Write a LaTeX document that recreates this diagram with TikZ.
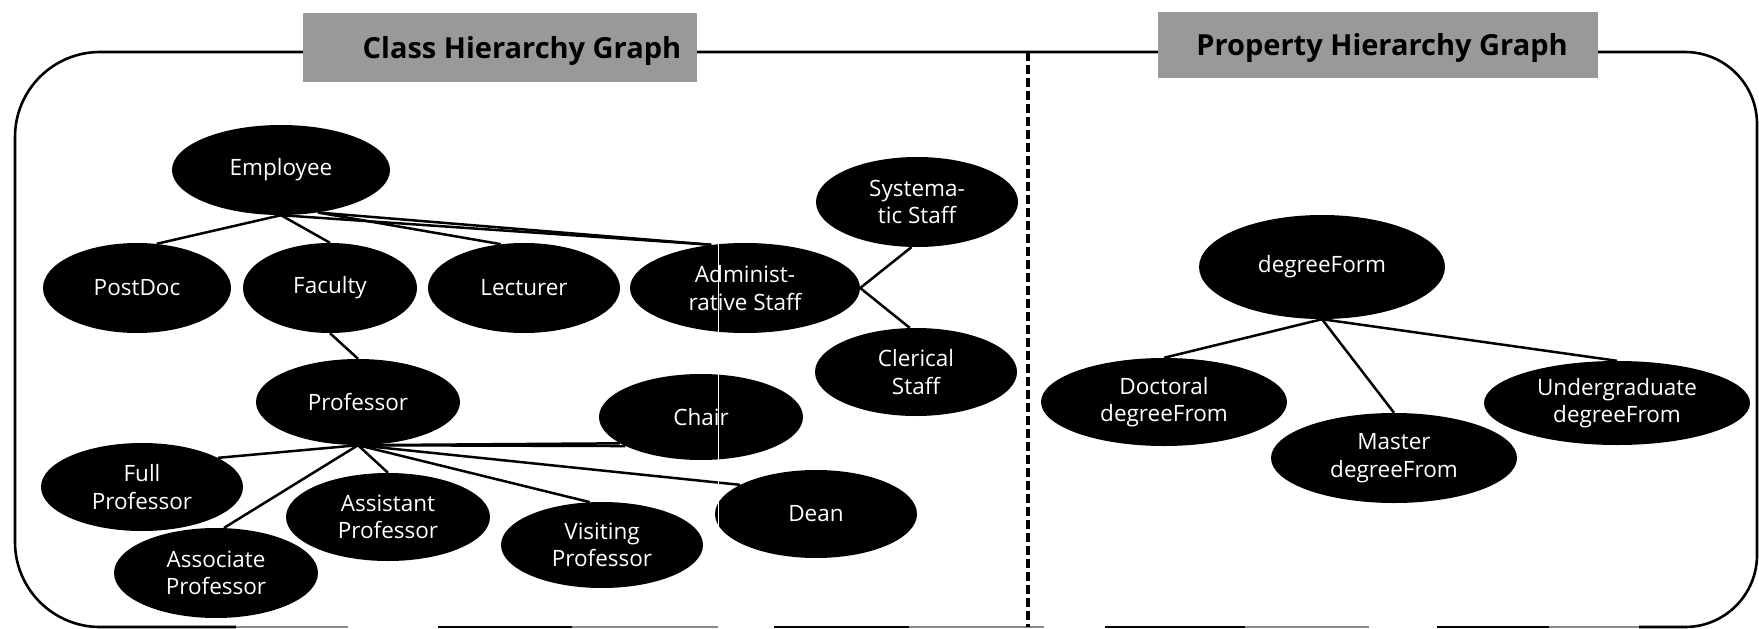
\documentclass[tikz,border=0pt]{standalone}
\usepackage{fontspec}
\setmainfont{Open Sans}
\usetikzlibrary{shapes.geometric}
\pgfdeclarelayer{bg}
\pgfsetlayers{bg,main}
\begin{document}
\begin{tikzpicture}[x=1pt,y=-1pt,
  cls/.style={ellipse, fill=black, text=white, inner sep=0pt, align=center,
              font=\fontsize{22.5}{27.5}\selectfont},
  sz/.style 2 args={minimum width=#1pt, minimum height=#2pt},
  edge/.style={line width=2.5pt},
  frameline/.style={line width=2.6pt},
  faintline/.style={line width=1.2pt, black!45},
  titlebox/.style={fill=black!40, draw=none, inner sep=0pt},
  titletext/.style={inner sep=0pt, font=\fontsize{29}{34}\selectfont\bfseries}
]
\useasboundingbox (0,0) rectangle (1759,629);

% ---------- class hierarchy nodes ----------
\node[cls, sz={218}{90}] (emp)      at (281,170) {Employee};
\node[cls, sz={188}{90}] (postdoc)  at (137,288) {PostDoc};
\node[cls, sz={174}{90}] (faculty)  at (330,288) {Faculty};
\node[cls, sz={192}{90}] (lecturer) at (524,288) {Lecturer};
\node[cls, sz={230}{90}] (admin)    at (745,288) {Administ-\\rative Staff};
\node[cls, sz={202}{90}] (syst)     at (917,202) {Systema-\\tic Staff};
\node[cls, sz={202}{88}] (cler)     at (916,372) {Clerical\\Staff};
\node[cls, sz={204}{86}] (prof)     at (358,402) {Professor};
\node[cls, sz={204}{86}] (chair)    at (701,417) {Chair};
\node[cls, sz={202}{88}] (full)     at (142,487) {Full\\Professor};
\node[cls, sz={204}{88}] (assist)   at (388,517) {Assistant\\Professor};
\node[cls, sz={204}{90}] (assoc)    at (216,573) {Associate\\Professor};
\node[cls, sz={202}{86}] (visit)    at (602,545) {Visiting\\Professor};
\node[cls, sz={202}{88}] (dean)     at (816,514) {Dean};

% ---------- property hierarchy nodes ----------
\node[cls, sz={246}{104}] (deg)    at (1322,267) {degreeForm};
\node[cls, sz={246}{88}]  (doct)   at (1164,402) {Doctoral\\degreeFrom};
\node[cls, sz={246}{90}]  (master) at (1394,458) {Master\\degreeFrom};
\node[cls, sz={266}{84}]  (under)  at (1617,403) {Undergraduate\\degreeFrom};

% scan artefact: thin white vertical streak
\draw[white, line width=1pt] (718,238) -- (718,560);

% ---------- title boxes ----------
\node[titlebox, minimum width=394pt, minimum height=69pt] (t1box) at (500,47.5) {};
\node[titletext] (t1) at (522,51) {Class Hierarchy Graph};
\node[titlebox, minimum width=440pt, minimum height=66pt] (t2box) at (1378,45) {};
\node[titletext] (t2) at (1382,48) {Property Hierarchy Graph};

\begin{pgfonlayer}{bg}
  % frame
  \draw[frameline, rounded corners=85pt] (236,627) -- (15,627) -- (15,52) -- (1028,52);
  \draw[frameline, rounded corners=72pt] (1028,52) -- (1757,52) -- (1757,627) -- (1639,627);
  \draw[frameline] (438,627) -- (572,627);
  \draw[frameline] (774,627) -- (909,627);
  \draw[frameline] (1105,627) -- (1245,627);
  \draw[frameline] (1437,627) -- (1549,627);
  \draw[faintline] (236,627) -- (348,627);
  \draw[faintline] (572,627) -- (718,627);
  \draw[faintline] (909,627) -- (1044,627);
  \draw[faintline] (1245,627) -- (1369,627);
  \draw[faintline] (1549,627) -- (1639,627);
  % divider
  \draw[line width=3.5pt, dash pattern=on 9pt off 4pt] (1028,52) -- (1028,627);

  % class edges
  \draw[edge] (emp.south) -- (postdoc.66);
  \draw[edge] (emp.south) -- (faculty.north);
  \draw[edge] (emp.-49) -- (lecturer.118);
  \draw[edge] (emp.-49) -- (admin.128);
  \draw[edge] (emp.south) -- (admin.128);
  \draw[edge] (admin.east) -- (syst.-97);
  \draw[edge] (admin.east) -- (cler.98);
  \draw[edge] (faculty.south) -- (prof.north);
  \draw[edge] (prof.south) -- (full.21);
  \draw[edge] (prof.south) -- (assoc.80);
  \draw[edge] (prof.south) -- (assist.north);
  \draw[edge] (prof.south) -- (chair.198);
  \draw[edge] (prof.south) -- (chair.201);
  \draw[edge] (prof.south) -- (dean.159);
  \draw[edge] (prof.south) -- (visit.106);

  % property edges
  \draw[edge] (deg.south) -- (doct.north);
  \draw[edge] (deg.south) -- (master.north);
  \draw[edge] (deg.south) -- (under.north);
\end{pgfonlayer}
\end{tikzpicture}
\end{document}
